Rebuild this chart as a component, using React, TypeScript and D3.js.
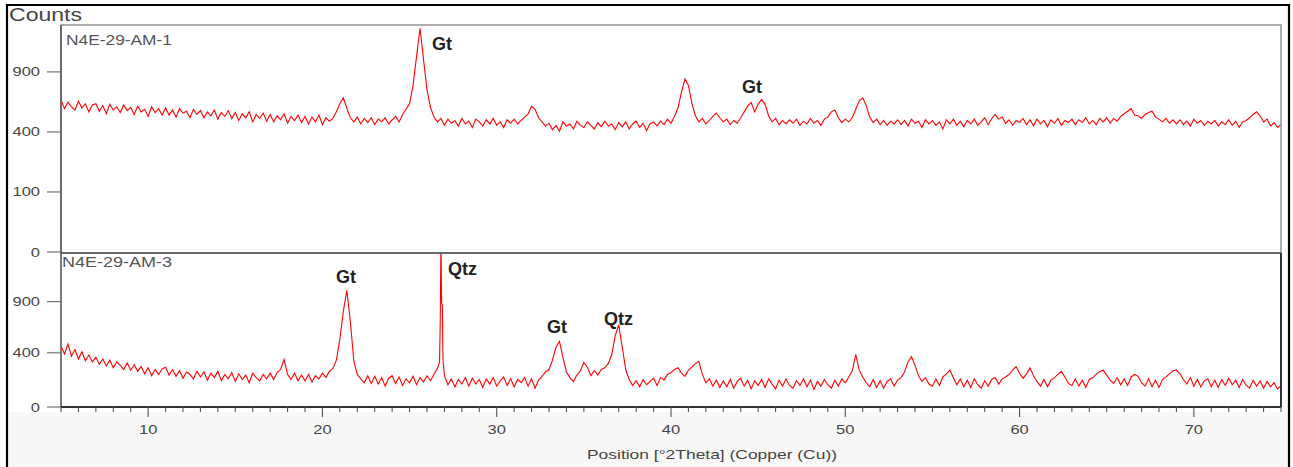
import React, { useEffect, useRef } from "react";
import * as d3 from "d3";

// scan grid of the two patterns (°2θ)
const START = 5;
const STEP = 0.2;

// N4E-29-AM-1 counts, one value every 0.2 °2θ from 5 to 75
const am1Counts = [
  640, 570, 625, 585, 560, 630, 575, 610, 545, 600,
  610, 550, 595, 530, 605, 560, 585, 540, 600, 555,
  580, 525, 590, 545, 565, 510, 585, 540, 570, 520,
  575, 520, 560, 505, 570, 535, 550, 500, 565, 525,
  555, 500, 545, 515, 560, 490, 540, 510, 555, 495,
  540, 480, 530, 500, 545, 470, 525, 495, 535, 475,
  525, 470, 515, 485, 530, 460, 510, 480, 520, 465,
  510, 455, 505, 470, 520, 450, 500, 475, 495, 545,
  610, 660, 575, 500, 470, 505, 455, 495, 465, 500,
  450, 490, 470, 500, 455, 485, 510, 470, 525, 565,
  610, 770, 1060, 1390, 1030, 730, 580, 505, 470, 495,
  445, 490, 460, 480, 440, 495, 455, 475, 430, 490,
  470, 440, 485, 455, 495, 445, 470, 430, 485, 460,
  490, 455, 480, 505, 530, 590, 565, 500, 470, 440,
  460, 415, 445, 405, 470, 440, 455, 420, 475, 445,
  430, 470, 445, 420, 465, 435, 475, 440, 455, 415,
  465, 435, 470, 420, 455, 475, 430, 460, 410, 455,
  470, 440, 475, 450, 490, 460, 510, 575, 710, 830,
  770, 610, 515, 470, 495, 455, 480, 510, 535, 500,
  470, 490, 450, 480, 460, 500, 545, 590, 620, 545,
  605, 645, 605, 515, 470, 495, 450, 480, 455, 485,
  460, 490, 445, 475, 455, 495, 460, 480, 445, 490,
  505, 545, 560, 500, 465, 490, 470, 500, 565, 635,
  660, 595, 505, 465, 490, 450, 480, 445, 475, 455,
  485, 450, 480, 440, 490, 460, 475, 430, 485, 455,
  480, 445, 470, 420, 485, 455, 490, 445, 475, 435,
  480, 455, 490, 445, 470, 500, 450, 495, 525, 490,
  505, 460, 485, 445, 480, 465, 495, 450, 485, 440,
  490, 455, 480, 435, 485, 460, 495, 445, 480, 465,
  490, 450, 485, 465, 500, 455, 480, 450, 495, 470,
  500, 460, 495, 475, 510, 530, 550, 570, 520, 515,
  495, 525, 540, 550, 505, 490, 470, 495, 460, 485,
  455, 485, 450, 475, 440, 490, 460, 480, 445, 475,
  455, 480, 440, 470, 450, 485, 445, 475, 430, 470,
  480, 500, 525, 545, 515, 470, 490, 440, 465, 430,
  450,
];

// N4E-29-AM-3 counts, same grid
const am3Counts = [
  460, 390, 480, 370, 430, 345, 410, 330, 380, 320,
  360, 300, 345, 285, 335, 270, 320, 290, 255, 310,
  250, 295, 240, 280, 220, 270, 205, 255, 215, 260,
  275, 210, 255, 200, 245, 185, 235, 215, 180, 240,
  195, 235, 170, 225, 190, 240, 165, 215, 180, 230,
  160, 220, 175, 210, 150, 225, 190, 165, 215, 180,
  225, 175, 230, 255, 340, 215, 175, 225, 165, 210,
  165, 215, 155, 205, 180, 225, 190, 240, 265, 335,
  525, 800, 1020, 700, 330, 215, 180, 150, 205, 145,
  200, 140, 190, 125, 185, 205, 145, 195, 130, 180,
  150, 200, 135, 190, 155, 205, 165, 215, 265, 880,
  205, 135, 180, 120, 175, 140, 190, 125, 185, 140,
  175, 115, 180, 140, 190, 125, 165, 195, 130, 180,
  120, 175, 150, 190, 125, 180, 110, 170, 200, 235,
  255, 335, 450, 505, 360, 235, 190, 160, 210, 245,
  315, 275, 205, 245, 210, 255, 270, 305, 385, 560,
  665, 455, 255, 175, 130, 165, 120, 175, 135, 160,
  185, 130, 190, 170, 215, 230, 255, 270, 225, 200,
  250, 275, 305, 325, 215, 150, 180, 125, 170, 115,
  165, 120, 175, 110, 160, 185, 125, 170, 105, 165,
  130, 175, 115, 180, 140, 105, 170, 125, 180, 130,
  110, 165, 130, 180, 120, 170, 100, 160, 125, 175,
  135, 110, 170, 125, 180, 150, 195, 245, 385, 250,
  195, 150, 120, 175, 115, 165, 110, 160, 180, 125,
  170, 190, 235, 320, 365, 290, 205, 160, 190, 140,
  125, 180, 130, 195, 220, 250, 190, 135, 180, 120,
  170, 115, 180, 135, 110, 165, 125, 175, 190, 140,
  180, 195, 215, 250, 280, 225, 185, 220, 268, 205,
  160, 125, 175, 120, 170, 190, 215, 240, 195, 145,
  130, 180, 125, 170, 115, 175, 190, 215, 240, 250,
  210, 170, 145, 190, 135, 180, 130, 195, 215, 200,
  150, 125, 180, 120, 170, 115, 175, 195, 220, 245,
  250, 220, 175, 140, 190, 125, 175, 120, 165, 180,
  120, 170, 115, 175, 130, 185, 135, 170, 115, 175,
  130, 110, 170, 125, 165, 110, 160, 120, 150, 105,
  125,
];

// the sharp quartz line of AM-3, read finer than the grid
const am3QtzLine: [number, number][] = [
  [26.72, 320], [26.76, 700], [26.8, 1600], [26.84, 890], [26.88, 860], [26.92, 330],
];

const xTicks = [10, 20, 30, 40, 50, 60, 70];
const topTicks = [0, 100, 400, 900];
const bottomTicks = [0, 400, 900];

const sampleNames = ["N4E-29-AM-1", "N4E-29-AM-3"];

// phase labels: text, 2θ of left edge, counts at baseline
const am1Phases: [string, number, number][] = [
  ["Gt", 26.29, 1132],
  ["Gt", 44.07, 701],
];
const am3Phases: [string, number, number][] = [
  ["Gt", 20.78, 1098],
  ["Qtz", 27.2, 1185],
  ["Gt", 32.88, 585],
  ["Qtz", 36.15, 663],
];

function toSeries(counts: number[], extra: [number, number][] = []) {
  const m = new Map<number, number>();
  counts.forEach((c, i) => m.set(Math.round((START + i * STEP) * 100) / 100, c));
  extra.forEach(([x, c]) => m.set(x, c));
  return Array.from(m.entries()).sort((a, b) => a[0] - b[0]);
}

const W = 1293;
const H = 467;
const TXT = "#454545";
const FONT = "'Liberation Sans', Arial, sans-serif";

const App = () => {
  const ref = useRef<SVGSVGElement>(null);

  useEffect(() => {
    const svg = d3.select(ref.current);
    svg.selectAll("*").remove();

    const left = 61;
    const right = 1281;
    const topY0 = 25;
    const mid = 253;
    const bottom = 407;

    const x = d3.scaleLinear().domain([5, 75]).range([left, right]);
    const yTop = d3.scaleSqrt().domain([0, 1430]).range([252, topY0]);
    const yBot = d3.scalePow().exponent(0.82).domain([0, 1430]).range([bottom, mid]);

    svg.append("rect").attr("width", W).attr("height", H).attr("fill", "#fff");
    svg.append("rect").attr("x", 8).attr("y", 412).attr("width", W - 10).attr("height", H - 412).attr("fill", "#f8f8f8");

    const defs = svg.append("defs");
    defs.append("clipPath").attr("id", "clipTop").append("rect")
      .attr("x", left).attr("y", topY0).attr("width", right - left).attr("height", mid - topY0);
    defs.append("clipPath").attr("id", "clipBot").append("rect")
      .attr("x", left).attr("y", mid).attr("width", right - left).attr("height", bottom - mid);

    // outer frame
    svg.append("path").attr("d", `M7,${H} V5 H1289 V${H}`)
      .attr("fill", "none").attr("stroke", "#000").attr("stroke-width", 2.2);

    // "Counts"
    svg.append("text").attr("x", 9).attr("y", 21).text("Counts")
      .attr("font-family", FONT).attr("font-size", 18).attr("fill", TXT)
      .attr("textLength", 73).attr("lengthAdjust", "spacingAndGlyphs");

    // traces
    const lineTop = d3.line<[number, number]>().x((d) => x(d[0])).y((d) => yTop(d[1]));
    const lineBot = d3.line<[number, number]>().x((d) => x(d[0])).y((d) => yBot(d[1]));

    svg.append("path").datum(toSeries(am1Counts)).attr("d", lineTop)
      .attr("clip-path", "url(#clipTop)")
      .attr("fill", "none").attr("stroke", "#ff0000").attr("stroke-width", 1.1);
    svg.append("path").datum(toSeries(am3Counts, am3QtzLine)).attr("d", lineBot)
      .attr("clip-path", "url(#clipBot)")
      .attr("fill", "none").attr("stroke", "#ff0000").attr("stroke-width", 1.1);

    // panel frames
    svg.append("rect").attr("x", left).attr("y", topY0).attr("width", right - left).attr("height", mid - topY0)
      .attr("fill", "none").attr("stroke", "#8c8c8c").attr("stroke-width", 1.4);
    svg.append("line").attr("x1", left).attr("x2", right).attr("y1", mid).attr("y2", mid)
      .attr("stroke", "#6a6a6a").attr("stroke-width", 2);
    svg.append("line").attr("x1", right).attr("x2", right).attr("y1", mid).attr("y2", bottom)
      .attr("stroke", "#333").attr("stroke-width", 2);
    svg.append("line").attr("x1", left).attr("x2", left).attr("y1", topY0).attr("y2", bottom)
      .attr("stroke", "#5a5a5a").attr("stroke-width", 1.6);
    svg.append("line").attr("x1", left).attr("x2", right).attr("y1", bottom).attr("y2", bottom)
      .attr("stroke", "#333").attr("stroke-width", 1.8);

    // x ticks
    const minor = d3.range(5, 76, 1);
    svg.selectAll(".xminor").data(minor).enter().append("line")
      .attr("x1", (d) => x(d)).attr("x2", (d) => x(d))
      .attr("y1", bottom).attr("y2", (d) => bottom + (d % 10 === 0 ? 10 : 5))
      .attr("stroke", "#555").attr("stroke-width", 1.1);
    svg.selectAll(".xlab").data(xTicks).enter().append("text")
      .attr("transform", (d) => `translate(${x(d)},${434}) scale(1.32,1)`)
      .attr("text-anchor", "middle").text((d) => d)
      .attr("font-family", FONT).attr("font-size", 12.5).attr("fill", TXT);

    svg.append("text").attr("x", 587).attr("y", 459).text("Position [°2Theta] (Copper (Cu))")
      .attr("font-family", FONT).attr("font-size", 13.5).attr("fill", TXT)
      .attr("textLength", 250).attr("lengthAdjust", "spacingAndGlyphs");

    // y ticks
    const yAxis = (ticks: number[], y: (v: number) => number, cls: string) => {
      svg.selectAll("." + cls + "t").data(ticks).enter().append("line")
        .attr("x1", 47).attr("x2", left).attr("y1", (d) => y(d)).attr("y2", (d) => y(d))
        .attr("stroke", "#666").attr("stroke-width", 1.1);
      svg.selectAll("." + cls + "l").data(ticks).enter().append("text")
        .attr("transform", (d) => `translate(40,${y(d) + 4.5}) scale(1.32,1)`)
        .attr("text-anchor", "end").text((d) => d)
        .attr("font-family", FONT).attr("font-size", 12.5).attr("fill", TXT);
    };
    yAxis(topTicks, yTop, "yt");
    yAxis(bottomTicks.filter((d) => d > 0), yBot, "yb");
    svg.append("line").attr("x1", 47).attr("x2", left).attr("y1", yBot(0)).attr("y2", yBot(0))
      .attr("stroke", "#666").attr("stroke-width", 1.1);
    svg.append("text").attr("transform", `translate(40,${yBot(0) + 4.5}) scale(1.32,1)`)
      .attr("text-anchor", "end").text(0)
      .attr("font-family", FONT).attr("font-size", 12.5).attr("fill", TXT);

    // sample names
    svg.append("text").attr("x", 66).attr("y", 45).text(sampleNames[0])
      .attr("font-family", FONT).attr("font-size", 14).attr("fill", "#555")
      .attr("textLength", 106).attr("lengthAdjust", "spacingAndGlyphs");
    svg.append("text").attr("x", 62).attr("y", 267).text(sampleNames[1])
      .attr("font-family", FONT).attr("font-size", 14).attr("fill", "#555")
      .attr("textLength", 110).attr("lengthAdjust", "spacingAndGlyphs");

    // phase labels
    const phase = (list: [string, number, number][], y: (v: number) => number) => {
      list.forEach(([t, p, c]) => {
        svg.append("text").attr("x", x(p)).attr("y", y(c)).text(t)
          .attr("font-family", FONT).attr("font-size", 18).attr("font-weight", "bold")
          .attr("fill", "#222");
      });
    };
    phase(am1Phases, yTop);
    phase(am3Phases, yBot);
  }, []);

  return (
    <svg ref={ref} width={W} height={H}
      style={{ position: "absolute", left: 0, top: 0, display: "block" }} />
  );
};

export default App;
